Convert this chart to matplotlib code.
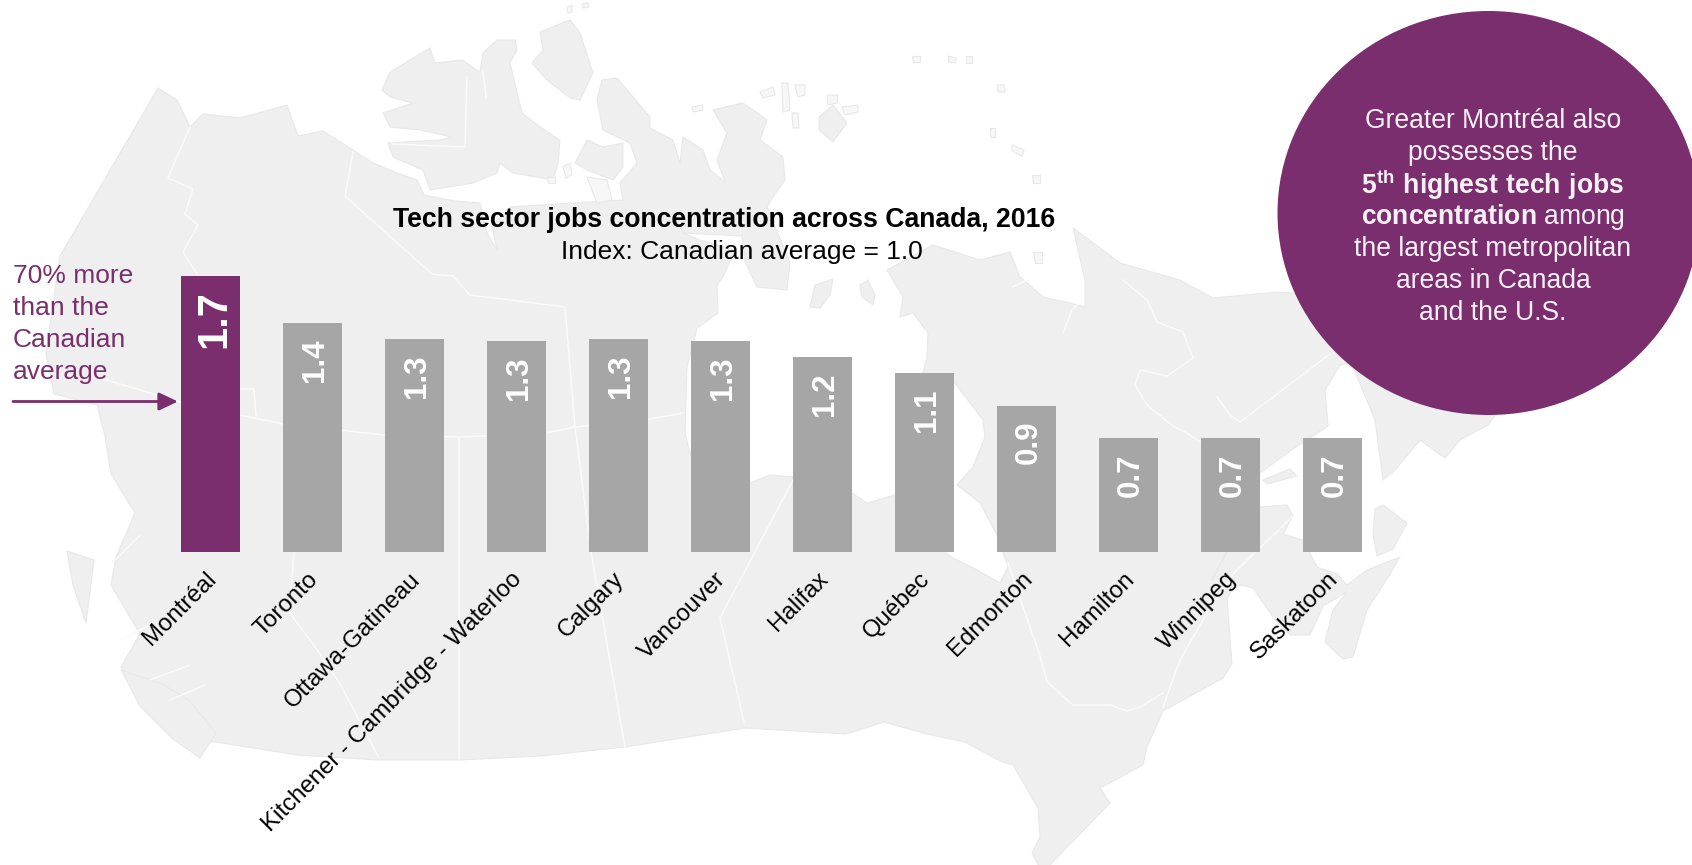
#!/usr/bin/python3

import matplotlib
matplotlib.use("Agg")
import matplotlib.pyplot as plt
from matplotlib.patches import Ellipse, Polygon
from matplotlib.transforms import ScaledTranslation

plt.rcParams['font.family'] = ['Liberation Sans', 'DejaVu Sans']
plt.rcParams['mathtext.fontset'] = 'custom'
plt.rcParams['mathtext.rm'] = 'Liberation Sans'
plt.rcParams['mathtext.bf'] = 'Liberation Sans:bold'

PURPLE = '#7A2E6D'
GREY = '#A6A6A6'
LAND = '#EFEFEF'
COAST = '#E8E8E8'

cities = ["Montréal", "Toronto", "Ottawa-Gatineau", "Kitchener - Cambridge - Waterloo", "Calgary", "Vancouver",
          "Halifax", "Québec", "Edmonton", "Hamilton", "Winnipeg", "Saskatoon"]
concentration = [1.70, 1.41, 1.31, 1.30, 1.31, 1.30, 1.20, 1.10, 0.90, 0.70, 0.70, 0.70]

title_text = "Tech sector jobs concentration across Canada, 2016"
subtitle_text = "Index: Canadian average = 1.0"
note_text = "70% more\nthan the\nCanadian\naverage"
bubble_lines = ["Greater Montréal also", "possesses the", r"$\mathbf{5^{th}\ highest\ tech\ jobs}$",
                r"$\mathbf{concentration}$ among", "the largest metropolitan", "areas in Canada", "and the U.S."]

# background map, traced by hand in image pixels
mainland = [(158, 88), (177, 100), (190, 127), (203, 114), (240, 118), (287, 105), (298, 136), (323, 131), (353, 150),
            (373, 163), (397, 173), (417, 180), (424, 195), (455, 201), (480, 203), (487, 233), (497, 250), (492, 226),
            (510, 207), (573, 203), (623, 200), (620, 183), (637, 163), (630, 143), (603, 130), (597, 100), (602, 80),
            (617, 78), (633, 97), (650, 117), (650, 128), (673, 140), (680, 163), (683, 137), (703, 150), (710, 170),
            (725, 182), (717, 160), (727, 133), (713, 110), (743, 103), (767, 120), (760, 140), (783, 157), (785, 180),
            (773, 197), (767, 207), (790, 263), (787, 290), (757, 287), (745, 262), (742, 236), (683, 233), (700, 240),
            (735, 250), (723, 277), (717, 285), (718, 313), (697, 328), (687, 367), (685, 433), (690, 453), (720, 480),
            (750, 483), (770, 475), (793, 477), (852, 493), (867, 503), (895, 495), (935, 545), (953, 558), (977, 570),
            (1000, 583), (1008, 567), (998, 537), (980, 503), (957, 485), (973, 467), (985, 437), (983, 420), (954, 382),
            (923, 373), (927, 357), (928, 333), (913, 313), (900, 317), (903, 297), (887, 270), (933, 245), (980, 260),
            (1010, 252), (1020, 277), (1043, 297), (1070, 303), (1085, 307), (1085, 280), (1073, 228), (1120, 263),
            (1180, 280), (1213, 298), (1278, 292), (1380, 300), (1400, 350), (1340, 365), (1325, 390), (1328, 426),
            (1290, 451), (1260, 473), (1240, 500), (1227, 552), (1212, 580), (1240, 525), (1260, 507), (1287, 505),
            (1293, 516), (1283, 534), (1303, 540), (1317, 567), (1337, 574), (1347, 585), (1367, 570), (1400, 557),
            (1390, 574), (1367, 610), (1353, 657), (1343, 659), (1325, 642), (1333, 610), (1347, 592), (1323, 606),
            (1310, 635), (1290, 635), (1273, 617), (1253, 588), (1240, 585), (1233, 588), (1227, 599), (1232, 664),
            (1223, 678), (1163, 711), (1147, 747), (1143, 765), (1100, 788), (1110, 803), (1047, 868), (1040, 868),
            (1032, 853), (1040, 837), (1038, 808), (1013, 765), (1000, 761), (965, 742), (927, 734), (884, 722),
            (846, 734), (745, 728), (625, 747), (540, 756), (459, 760), (378, 760), (297, 755), (216, 742), (189, 739),
            (156, 706), (121, 667), (140, 634), (111, 585), (116, 557), (135, 513), (111, 474), (105, 436), (97, 405),
            (54, 394), (46, 353), (60, 256)]
victoria_isl = [(382, 90), (390, 72), (430, 48), (435, 63), (462, 60), (480, 72), (483, 53), (497, 40), (515, 40),
                (517, 50), (510, 63), (522, 113), (540, 127), (560, 140), (558, 163), (553, 180), (513, 173), (500, 163),
                (497, 173), (473, 183), (430, 190), (423, 170), (393, 157), (388, 143), (440, 140), (452, 137), (420, 130),
                (390, 127), (383, 113), (413, 103), (390, 97)]
devon_isl = [(540, 32), (570, 20), (580, 33), (593, 73), (580, 100), (570, 98), (547, 80), (532, 63), (543, 50)]
small_isl = [(575, 163), (587, 140), (603, 147), (623, 143), (623, 167), (613, 180), (587, 170)]
vancouver_isl = [(121, 670), (162, 684), (189, 700), (216, 733), (200, 758), (173, 739), (140, 706)]
haida_gwaii = [(67, 551), (94, 560), (86, 623), (73, 585)]
east_isl = [(819, 117), (833, 105), (847, 123), (833, 142), (819, 130)]
coats_isl = [(810, 307), (815, 285), (833, 279), (830, 295), (820, 308)]
mansel_isl = [(860, 285), (868, 280), (875, 295), (873, 305), (862, 297)]
cape_breton = [(1375, 509), (1383, 505), (1407, 523), (1393, 549), (1377, 556), (1373, 534)]
newfoundland = [(1350, 360), (1375, 420), (1383, 480), (1395, 470), (1420, 440), (1445, 458), (1460, 440), (1488, 425),
                (1510, 395), (1400, 340)]
anticosti = [(1263, 480), (1290, 469), (1297, 476), (1267, 484)]
land_parts = [mainland, victoria_isl, devon_isl, small_isl, vancouver_isl, haida_gwaii, east_isl, coats_isl, mansel_isl,
              cape_breton, newfoundland, anticosti]

# the tiny islands round the north
tiny_isl = [[(567, 8), (572, 5), (572, 12), (568, 13)], [(582, 4), (588, 3), (589, 7), (583, 8)],
            [(692, 107), (702, 105), (703, 110), (693, 112)], [(760, 92), (773, 87), (775, 95), (763, 98)],
            [(782, 83), (788, 83), (790, 110), (783, 112)], [(795, 85), (805, 85), (805, 95), (798, 97)],
            [(792, 113), (798, 113), (799, 128), (793, 128)], [(827, 95), (838, 95), (837, 103), (828, 105)],
            [(842, 107), (858, 105), (858, 112), (845, 115)], [(563, 167), (570, 163), (572, 175), (566, 178)],
            [(547, 177), (555, 177), (555, 183), (548, 183)], [(587, 177), (607, 180), (612, 200), (597, 203)],
            [(1033, 252), (1042, 252), (1042, 263), (1035, 263)], [(912, 56), (920, 56), (920, 62), (913, 62)],
            [(948, 56), (956, 58), (955, 63), (949, 62)], [(966, 56), (972, 56), (972, 63), (966, 63)],
            [(997, 85), (1004, 85), (1005, 92), (998, 92)], [(990, 128), (995, 128), (995, 137), (990, 137)],
            [(1012, 145), (1024, 150), (1022, 156), (1012, 151)], [(1032, 175), (1040, 175), (1040, 183), (1033, 183)]]

# provincial borders and rivers
yukon_border = [(190, 127), (168, 178), (193, 189), (185, 214), (198, 225), (183, 252), (197, 274)]
nunavut_border = [(353, 152), (345, 196), (432, 274), (453, 276), (470, 295), (565, 307), (575, 427), (591, 552), (625, 747)]
parallel_60 = [(103, 379), (177, 401), (240, 415), (283, 424), (385, 435), (459, 437), (546, 433), (575, 427), (649, 419),
               (683, 413)]
panhandle = [(240, 389), (254, 389), (256, 416)]
alberta_border = [(459, 437), (459, 760)]
bc_border = [(294, 552), (289, 612), (318, 651), (340, 684), (378, 756)]
manitoba_border = [(793, 480), (720, 618), (744, 722)]
ontario_border = [(1008, 563), (1040, 656), (1047, 682), (1073, 705), (1110, 705), (1127, 711), (1140, 707), (1163, 693)]
st_lawrence = [(1163, 707), (1180, 660), (1207, 613), (1233, 574), (1293, 516)]
labrador_border = [(1330, 354), (1240, 422), (1230, 415), (1217, 397)]
quebec_river = [(1123, 280), (1147, 300), (1157, 322), (1183, 332), (1193, 358), (1167, 376), (1140, 370), (1135, 385),
                (1147, 405), (1173, 426), (1187, 433), (1200, 442)]
arctic_box = [(467, 77), (465, 147), (393, 144)]
arctic_inlet = [(483, 70), (486, 98)]
ungava_river = [(1063, 333), (1072, 310), (1077, 305)]
ungava_inlet = [(1013, 287), (1027, 280)]
fjord_a = [(115, 560), (140, 535)]
fjord_b = [(120, 640), (150, 625)]
fjord_c = [(150, 680), (190, 665)]
fjord_d = [(170, 700), (205, 685)]
border_lines = [yukon_border, nunavut_border, parallel_60, panhandle, alberta_border, bc_border, manitoba_border,
                ontario_border, st_lawrence, labrador_border, quebec_river, arctic_box, arctic_inlet, ungava_river,
                ungava_inlet, fjord_a, fjord_b, fjord_c, fjord_d]

fig = plt.figure(figsize=(16.92, 8.65), dpi=100)

# layer in pixel coordinates for map, bubble and notes
bg = fig.add_axes([0, 0, 1, 1])
bg.set_xlim(0, 1692)
bg.set_ylim(865, 0)
bg.axis('off')

for part in land_parts:
    bg.add_patch(Polygon(part, closed=True, facecolor=LAND, edgecolor=COAST, linewidth=0.8, joinstyle='round', zorder=1))
for part in tiny_isl:
    bg.add_patch(Polygon(part, closed=True, facecolor='#F7F7F7', edgecolor=COAST, linewidth=0.8, joinstyle='round', zorder=1))
for line in border_lines:
    bg.plot([p[0] for p in line], [p[1] for p in line], color='#FAFAFA', linewidth=1.1, zorder=2)

bg.add_patch(Ellipse((1488.5, 213), 422, 404, facecolor=PURPLE, edgecolor='none', zorder=3))

bg.text(724, 220, title_text, fontsize=19.2, fontweight='bold', ha='center', va='center', color='black', zorder=4)
bg.text(742, 251.5, subtitle_text, fontsize=19, ha='center', va='center', color='black', zorder=4)

for i, line in enumerate(bubble_lines):
    bg.text(1493, 120.5 + i * 32.1, line, fontsize=19.1, color='#F7F1F6', ha='center', va='center', zorder=4)

for i, line in enumerate(note_text.split("\n")):
    bg.text(13, 276 + i * 32, line, fontsize=19, color=PURPLE, ha='left', va='center', zorder=4)
bg.annotate("", xy=(178, 401.5), xytext=(13, 401.5),
            arrowprops=dict(arrowstyle='-|>,head_length=1.15,head_width=0.54', color=PURPLE, lw=2,
                            shrinkA=0, shrinkB=0), zorder=4)

# the bars: 102 px per category, 162 px per index unit
ax = fig.add_axes([159.5 / 1692, (865 - 551.5) / 865, 1224 / 1692, 286.5 / 865])
ax.patch.set_alpha(0)
positions = list(range(len(cities)))
colors = [PURPLE] + [GREY] * (len(cities) - 1)
bars = ax.bar(positions, concentration, width=0.578, color=colors)
ax.set_xlim(-0.5, 11.5)
ax.set_ylim(0, 286.5 / 162)
for spine in ax.spines.values():
    spine.set_visible(False)
ax.set_yticks([])
ax.set_xticks(positions)
ax.set_xticklabels(cities, rotation=45, ha='right', rotation_mode='anchor', fontsize=17.3)
ax.tick_params(axis='x', length=0, pad=12)
# labels sit a little left of the bar centres
label_shift = ScaledTranslation(-5.4 / 100, 0, fig.dpi_scale_trans)
for label in ax.get_xticklabels():
    label.set_transform(label.get_transform() + label_shift)

for i, (bar, value) in enumerate(zip(bars, concentration)):
    big = i == 0
    ax.annotate(f"{value:.1f}", (bar.get_x() + bar.get_width() / 2, value), xytext=(3 if big else 1.5, -10 if big else -11),
                textcoords='offset points', rotation=90, ha='center', va='top', color='white',
                fontweight='bold', fontsize=30 if big else 22.5)

fig.savefig("out.png", dpi=100)
